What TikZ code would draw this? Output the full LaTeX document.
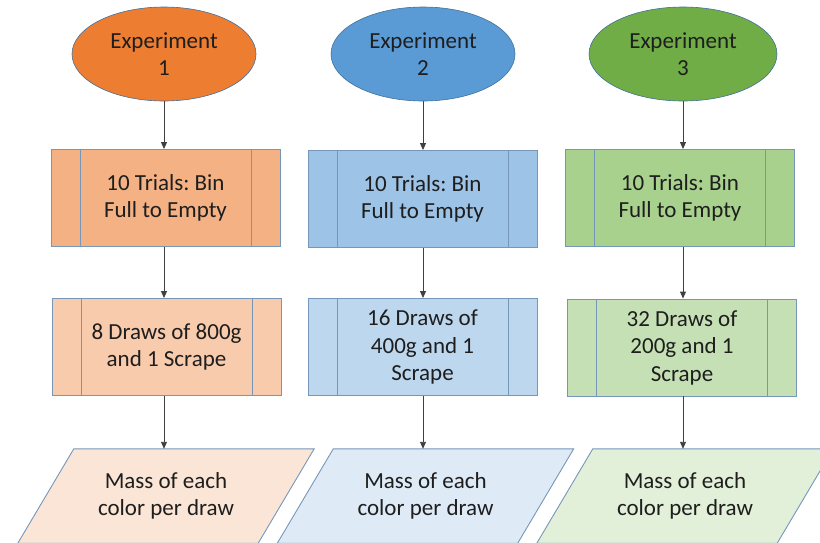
\documentclass[tikz,border=0pt]{standalone}
\usepackage{fontspec}
\setmainfont{Carlito}
\usepackage{tikz}
\usetikzlibrary{shapes.geometric, arrows.meta, positioning, backgrounds}
\frenchspacing
\definecolor{exporange}{RGB}{237,125,49}
\definecolor{expblue}{RGB}{91,155,213}
\definecolor{expgreen}{RGB}{112,173,71}
\definecolor{trorange}{RGB}{244,177,131}
\definecolor{trblue}{RGB}{157,195,230}
\definecolor{trgreen}{RGB}{169,209,142}
\definecolor{drorange}{RGB}{248,203,173}
\definecolor{drblue}{RGB}{189,215,238}
\definecolor{drgreen}{RGB}{197,224,180}
\definecolor{msorange}{RGB}{251,229,214}
\definecolor{msblue}{RGB}{222,235,247}
\definecolor{msgreen}{RGB}{226,240,217}
\definecolor{myframe}{RGB}{65,113,156}
\definecolor{boxframe}{RGB}{118,150,186}
\definecolor{mytext}{RGB}{30,30,30}
\definecolor{mydark}{RGB}{64,64,64}
\tikzset{
  expnode/.style={ellipse, draw=myframe, line width=0.6pt,
    minimum width=184pt, minimum height=94pt, align=center,
    font=\fontsize{23}{27.5}\selectfont, text=mytext},
  procbox/.style={rectangle, draw=boxframe, line width=0.9pt,
    minimum width=229pt, minimum height=97pt, align=center,
    font=\fontsize{23}{27.5}\selectfont, text=mytext,
    path picture={\draw[boxframe, line width=0.9pt]
      ([xshift=29pt]path picture bounding box.north west) --
      ([xshift=29pt]path picture bounding box.south west)
      ([xshift=-29pt]path picture bounding box.north east) --
      ([xshift=-29pt]path picture bounding box.south east);}},
  masstext/.style={rectangle, minimum width=240pt, minimum height=94pt,
    align=center, font=\fontsize{23}{27.5}\selectfont, text=mytext},
  massframe/.style={draw=boxframe, line width=0.9pt},
  arrow/.style={-{Triangle[length=7pt,width=6pt]}, line width=0.9pt, color=mydark}
}
\begin{document}
\begin{tikzpicture}[x=1pt, y=-1pt]
  \clip (0,0) rectangle (820,542);
  % experiments
  \node[expnode, fill=exporange] (e1) at (164,54) {Experiment\\1};
  \node[expnode, fill=expblue] (e2) at (423,54) {Experiment\\2};
  \node[expnode, fill=expgreen, minimum width=188pt] (e3) at (683,54) {Experiment\\3};
  % trials
  \node[procbox, fill=trorange] (t1) at (165.5,198) {10 Trials: Bin\\Full to Empty};
  \node[procbox, fill=trblue] (t2) at (422.5,199) {10 Trials: Bin\\Full to Empty};
  \node[procbox, fill=trgreen] (t3) at (680,198) {10 Trials: Bin\\Full to Empty};
  % draws
  \node[procbox, fill=drorange] (d1) at (166.5,347) {8 Draws of 800g\\and 1 Scrape};
  \node[procbox, fill=drblue] (d2) at (422.5,347) {16 Draws of\\400g and 1\\Scrape};
  \node[procbox, fill=drgreen] (d3) at (682,347.5) {32 Draws of\\200g and 1\\Scrape};
  % outputs
  \node[masstext] (m1) at (166,496) {Mass of each\\color per draw};
  \node[masstext] (m2) at (425.5,496) {Mass of each\\color per draw};
  \node[masstext] (m3) at (685,496) {Mass of each\\color per draw};
  \begin{scope}[on background layer]
    \draw[massframe, fill=msorange] ([xshift=28pt]m1.north west) -- ([xshift=28pt]m1.north east)
      -- ([xshift=-28pt]m1.south east) -- ([xshift=-28pt]m1.south west) -- cycle;
    \draw[massframe, fill=msblue] ([xshift=28pt]m2.north west) -- ([xshift=28pt]m2.north east)
      -- ([xshift=-28pt]m2.south east) -- ([xshift=-28pt]m2.south west) -- cycle;
    \draw[massframe, fill=msgreen] ([xshift=28pt]m3.north west) -- ([xshift=28pt]m3.north east)
      -- ([xshift=-28pt]m3.south east) -- ([xshift=-28pt]m3.south west) -- cycle;
  \end{scope}
  % arrows
  \draw[arrow] (e1.south) -- (e1.south |- t1.north);
  \draw[arrow] (e2.south) -- (e2.south |- t2.north);
  \draw[arrow] (e3.south) -- (e3.south |- t3.north);
  \draw[arrow] (e1.south |- t1.south) -- (e1.south |- d1.north);
  \draw[arrow] (e2.south |- t2.south) -- (e2.south |- d2.north);
  \draw[arrow] (e3.south |- t3.south) -- (e3.south |- d3.north);
  \draw[arrow] (e1.south |- d1.south) -- (e1.south |- m1.north);
  \draw[arrow] (e2.south |- d2.south) -- (e2.south |- m2.north);
  \draw[arrow] (e3.south |- d3.south) -- (e3.south |- m3.north);
\end{tikzpicture}
\end{document}
